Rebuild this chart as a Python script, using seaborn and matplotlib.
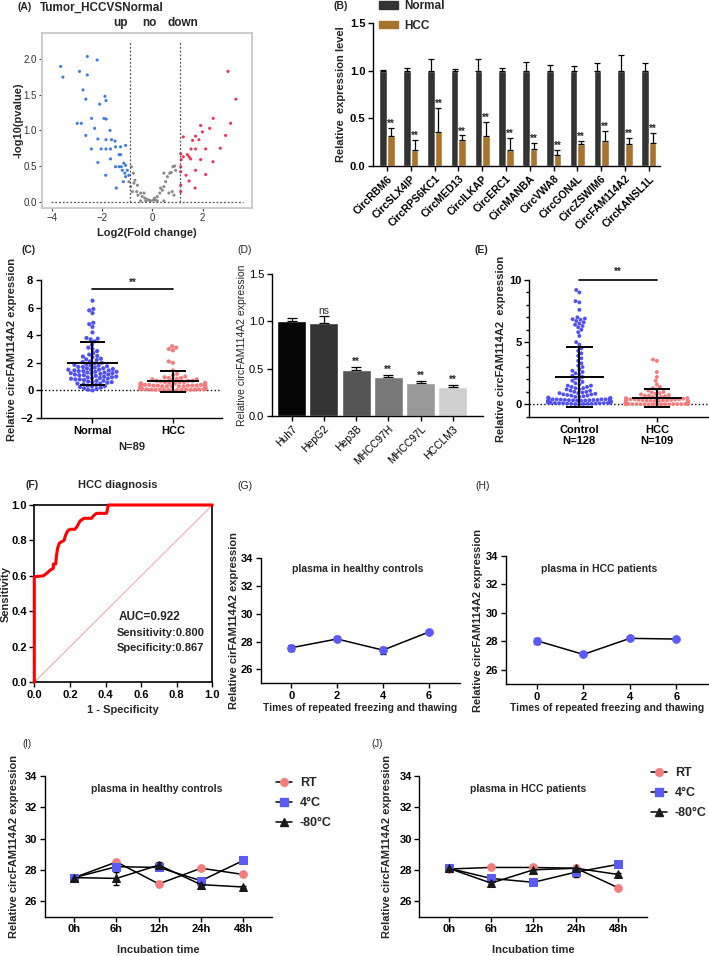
import numpy as np
import pandas as pd
import seaborn as sns
import matplotlib.pyplot as plt
from matplotlib.ticker import MultipleLocator, FormatStrFormatter
from matplotlib.lines import Line2D
from matplotlib.patches import Patch

sns.set_theme(style="ticks")
plt.rcParams['font.family'] = ['Liberation Sans', 'DejaVu Sans']
plt.rcParams['font.weight'] = 'bold'
plt.rcParams['axes.labelweight'] = 'bold'
plt.rcParams['axes.linewidth'] = 1.0
plt.rcParams['axes.edgecolor'] = 'black'
plt.rcParams['xtick.color'] = 'black'
plt.rcParams['ytick.color'] = 'black'
plt.rcParams['xtick.labelsize'] = 8
plt.rcParams['ytick.labelsize'] = 8

# ---------------- data ----------------
# (A) volcano plot
left_fc = [-3.64, -3.55, -2.58, -2.19, -2.89, -2.58, -2.75, -2.64, -2.98, -2.82,
           -2.09, -1.88, -1.84, -2.41, -2.29, -1.92, -1.83, -1.68, -2.64, -2.16,
           -1.84, -1.62, -1.48, -2.42, -2.03, -1.84, -1.66, -1.46, -1.26, -1.06,
           -1.32, -1.26, -1.66, -2.16, -1.46, -1.32, -1.23, -1.13, -1.06, -1.19,
           -1.09, -0.99, -0.93, -1.15, -1.85, -1.43, -1.06]
left_p = [1.90, 1.75, 2.04, 1.99, 1.83, 1.78, 1.57, 1.44, 1.10, 1.10,
          1.37, 1.48, 1.42, 1.17, 1.03, 1.17, 1.16, 1.00, 0.93, 0.88,
          0.87, 0.87, 0.85, 0.74, 0.74, 0.74, 0.74, 0.77, 0.77, 0.79,
          0.66, 0.66, 0.60, 0.55, 0.49, 0.49, 0.49, 0.54, 0.51, 0.44,
          0.40, 0.44, 0.37, 0.28, 0.37, 0.19, 0.35]
mid_fc = [-0.83, -0.75, -0.69, -0.86, -0.79, -0.62, -0.57, -0.46, -0.40, -0.30,
          -0.20, -0.13, -0.07, 0.03, 0.09, 0.20, 0.30, 0.40, 0.46, 0.53,
          0.60, 0.69, 0.75, 0.82, 0.89, 0.93, 0.46, 0.33, 0.66, 0.79,
          0.86, -0.59, -0.73, -0.33, 0.13, -0.26, 0.20, 0.46, -0.46, -0.93]
mid_p = [0.49, 0.40, 0.30, 0.21, 0.14, 0.14, 0.09, 0.12, 0.07, 0.05,
         0.03, 0.02, 0.01, 0.02, 0.05, 0.07, 0.12, 0.16, 0.21, 0.28,
         0.35, 0.40, 0.41, 0.49, 0.50, 0.44, 0.40, 0.19, 0.12, 0.14,
         0.09, 0.23, 0.26, 0.12, 0.02, 0.01, 0.01, 0.01, 0.01, 0.28]
right_fc = [3.01, 3.32, 2.42, 3.11, 1.92, 2.28, 1.99, 1.23, 1.72, 2.91,
            1.60, 1.85, 2.70, 1.54, 1.72, 2.12, 1.13, 1.39, 1.46, 1.52,
            1.92, 2.41, 1.13, 1.72, 2.12, 1.34, 1.13, 1.46, 1.13, 1.70,
            1.13, 1.15, 1.23]
right_p = [1.83, 1.44, 1.17, 1.10, 1.07, 1.03, 0.98, 0.91, 0.92, 0.93,
           0.86, 0.87, 0.75, 0.74, 0.74, 0.74, 0.67, 0.66, 0.63, 0.60,
           0.59, 0.56, 0.49, 0.44, 0.38, 0.37, 0.42, 0.29, 0.23, 0.19,
           0.14, 0.59, 0.63]
fc_cutoffs = [-0.89, 1.10]

# (B) candidate circRNAs
genes = ['CircRBM6', 'CircSLX4IP', 'CircRPS6KC1', 'CircMED13', 'CircILKAP', 'CircERC1',
         'CircMANBA', 'CircVWA8', 'CircGON4L', 'CircZSWIM6', 'CircFAM114A2', 'CircKANSL1L']
normal_b = [1.0, 1.0, 1.0, 1.0, 1.0, 1.0, 1.0, 1.0, 1.0, 1.0, 1.0, 1.0]
normal_b_err = [0.01, 0.03, 0.12, 0.02, 0.12, 0.03, 0.09, 0.06, 0.05, 0.08, 0.16, 0.08]
hcc_b = [0.31, 0.17, 0.36, 0.27, 0.31, 0.17, 0.18, 0.12, 0.23, 0.26, 0.23, 0.24]
hcc_b_err = [0.09, 0.10, 0.25, 0.05, 0.15, 0.12, 0.06, 0.05, 0.03, 0.11, 0.06, 0.11]

# (C) tissue samples
normal_c = [6.5, 5.9, 5.8, 5.6, 4.9, 4.8, 4.6, 4.2, 3.8, 3.75,
            3.7, 3.55, 3.3, 3.1, 3.0, 2.85, 2.7, 2.6, 2.5, 2.45,
            2.4, 2.3, 2.25, 2.2, 2.1, 2.05, 2.0, 1.95, 1.9, 1.85,
            1.8, 1.8, 1.75, 1.7, 1.7, 1.65, 1.6, 1.6, 1.55, 1.5,
            1.5, 1.5, 1.45, 1.45, 1.4, 1.4, 1.35, 1.35, 1.3, 1.3,
            1.25, 1.25, 1.2, 1.2, 1.15, 1.15, 1.1, 1.1, 1.05, 1.0,
            1.0, 0.95, 0.95, 0.9, 0.9, 0.85, 0.85, 0.8, 0.8, 0.75,
            0.7, 0.7, 0.65, 0.6, 0.6, 0.55, 0.5, 0.5, 0.45, 0.4,
            0.35, 0.3, 0.3, 0.25, 0.2, 0.15, 0.1, 0.05, 0.0]
hcc_c = [3.2, 3.1, 3.0, 2.9, 2.1, 2.0, 1.45, 1.2, 1.1, 1.0,
         0.95, 0.9, 0.9, 0.85, 0.8, 0.8, 0.75, 0.7, 0.7, 0.7,
         0.65, 0.6, 0.6, 0.6, 0.55, 0.55, 0.5, 0.5, 0.5, 0.5,
         0.45, 0.45, 0.45, 0.4, 0.4, 0.4, 0.4, 0.4, 0.35, 0.35,
         0.35, 0.35, 0.35, 0.3, 0.3, 0.3, 0.3, 0.3, 0.3, 0.25,
         0.25, 0.25, 0.25, 0.25, 0.25, 0.2, 0.2, 0.2, 0.2, 0.2,
         0.2, 0.2, 0.15, 0.15, 0.15, 0.15, 0.15, 0.15, 0.1, 0.1,
         0.1, 0.1, 0.1, 0.1, 0.1, 0.08, 0.08, 0.08, 0.06, 0.06,
         0.05, 0.05, 0.05, 0.04, 0.03, 0.03, 0.02, 0.02, 0.01]
c_groups = ['Normal', 'HCC']
c_mean = [1.97, 0.65]
c_sd = [1.55, 0.76]

# (D) cell lines
cell_lines = ['Huh7', 'HepG2', 'Hep3B', 'MHCC97H', 'MHCC97L', 'HCCLM3']
cell_expr = [1.0, 0.98, 0.49, 0.41, 0.35, 0.31]
cell_err = [0.03, 0.08, 0.03, 0.02, 0.02, 0.02]
cell_sig = ['', 'ns', '**', '**', '**', '**']
cell_colors = ['#050505', '#333333', '#555555', '#787878', '#999999', '#cfcfcf']

# (E) plasma samples
control_e = [9.2, 9.0, 8.3, 8.2, 7.6, 7.0, 6.9, 6.85, 6.8, 6.7,
             6.6, 6.5, 6.4, 6.3, 6.2, 6.0, 5.8, 5.5, 5.0, 4.8,
             4.5, 4.3, 4.1, 3.9, 3.7, 3.5, 3.3, 3.1, 3.0, 2.8,
             2.7, 2.6, 2.5, 2.4, 2.3, 2.2, 2.1, 2.0, 1.9, 1.8,
             1.7, 1.6, 1.5, 1.5, 1.4, 1.4, 1.3, 1.3, 1.2, 1.2,
             1.1, 1.1, 1.0, 1.0, 0.95, 0.9, 0.9, 0.85, 0.8, 0.8,
             0.75, 0.7, 0.7, 0.65, 0.6, 0.6, 0.55, 0.5, 0.5, 0.5,
             0.45, 0.45, 0.4, 0.4, 0.4, 0.4, 0.38, 0.36, 0.35, 0.35,
             0.34, 0.33, 0.32, 0.31, 0.3, 0.3, 0.3, 0.29, 0.28, 0.28,
             0.27, 0.26, 0.25, 0.25, 0.25, 0.24, 0.23, 0.22, 0.22, 0.21,
             0.2, 0.2, 0.2, 0.19, 0.18, 0.18, 0.17, 0.16, 0.15, 0.15,
             0.14, 0.13, 0.12, 0.12, 0.11, 0.1, 0.1, 0.09, 0.08, 0.08,
             0.07, 0.06, 0.05, 0.05, 0.04, 0.03, 0.02, 0.01]
hcc_e = [3.6, 3.5, 2.6, 2.2, 1.9, 1.6, 1.4, 1.3, 1.2, 1.1,
         1.0, 0.95, 0.9, 0.85, 0.8, 0.75, 0.7, 0.7, 0.65, 0.6,
         0.6, 0.55, 0.5, 0.5, 0.45, 0.45, 0.4, 0.4, 0.4, 0.38,
         0.36, 0.35, 0.34, 0.32, 0.3, 0.3, 0.3, 0.28, 0.27, 0.26,
         0.25, 0.25, 0.24, 0.23, 0.22, 0.21, 0.2, 0.2, 0.2, 0.19,
         0.18, 0.18, 0.17, 0.16, 0.15, 0.15, 0.15, 0.14, 0.14, 0.13,
         0.13, 0.12, 0.12, 0.12, 0.11, 0.11, 0.1, 0.1, 0.1, 0.1,
         0.09, 0.09, 0.09, 0.08, 0.08, 0.08, 0.08, 0.07, 0.07, 0.07,
         0.06, 0.06, 0.06, 0.06, 0.05, 0.05, 0.05, 0.05, 0.04, 0.04,
         0.04, 0.04, 0.03, 0.03, 0.03, 0.03, 0.02, 0.02, 0.02, 0.02,
         0.02, 0.01, 0.01, 0.01, 0.01, 0.0, 0.0, 0.0, 0.0]
e_groups = ['Control\nN=128', 'HCC\nN=109']
e_mean = [2.2, 0.51]
e_sd = [2.45, 0.75]

# (F) ROC curve
roc_fpr = [0.0, 0.0, 0.05, 0.07, 0.09, 0.107, 0.107, 0.12, 0.125, 0.131, 0.14, 0.154,
           0.167, 0.176, 0.185, 0.2, 0.228, 0.24, 0.257, 0.279, 0.322, 0.331, 0.35,
           0.406, 0.416, 1.0]
roc_tpr = [0.0, 0.596, 0.60, 0.615, 0.633, 0.643, 0.667, 0.667, 0.718, 0.756, 0.784, 0.793,
           0.80, 0.83, 0.85, 0.863, 0.863, 0.878, 0.91, 0.925, 0.925, 0.938, 0.953,
           0.953, 1.0, 1.0]

# (G, H) freeze-thaw cycles
freeze_times = [0, 2, 4, 6]
g_vals = [27.56, 28.19, 27.39, 28.69]
g_sd = [0.2, 0.18, 0.25, 0.05]
h_vals = [28.04, 27.08, 28.21, 28.16]
h_sd = [0.2, 0.05, 0.05, 0.05]

# (I, J) incubation time
incub_times = ['0h', '6h', '12h', '24h', '48h']
conditions = ['RT', '4°C', '-80°C']
cond_markers = ['o', 's', '^']
cond_colors = ['#f37d7d', '#5a5af5', '#1a1a1a']
i_vals = [[27.5, 28.5, 27.1, 28.1, 27.7],
          [27.5, 28.2, 28.15, 27.3, 28.6],
          [27.5, 27.45, 28.3, 27.05, 26.9]]
i_sd = [[0.1, 0.1, 0.05, 0.05, 0.05],
        [0.15, 0.1, 0.1, 0.1, 0.05],
        [0.1, 0.4, 0.2, 0.08, 0.06]]
j_vals = [[28.05, 28.15, 28.15, 28.1, 26.85],
          [28.1, 27.45, 27.2, 27.85, 28.35],
          [28.1, 27.15, 28.0, 28.1, 27.7]]
j_sd = [[0.1, 0.05, 0.15, 0.1, 0.05],
        [0.15, 0.2, 0.05, 0.3, 0.05],
        [0.1, 0.08, 0.15, 0.1, 0.12]]

# ---------------- layout helpers ----------------
W, H = 709, 956
fig = plt.figure(figsize=(W / 100, H / 100), dpi=100)


def px_axes(x0, y0, x1, y1):
    return fig.add_axes([x0 / W, 1 - y1 / H, (x1 - x0) / W, (y1 - y0) / H])


def px_text(x, y, s, size=8, ha='left', va='center', weight='bold', **kw):
    return fig.text(x / W, 1 - y / H, s, fontsize=size, ha=ha, va=va, fontweight=weight, **kw)


def ylab(ax, x, s, size=8, weight='bold'):
    b = ax.get_position()
    fig.text(x / W, b.y0 + b.height / 2, s, rotation=90, ha='center', va='center',
             fontsize=size, fontweight=weight)


def xlab(ax, y, s, size=8, weight='bold'):
    b = ax.get_position()
    fig.text(b.x0 + b.width / 2, 1 - y / H, s, ha='center', va='center',
             fontsize=size, fontweight=weight)


def prism(ax):
    sns.despine(ax=ax)
    ax.tick_params(length=3.5, width=1, pad=2)
    ax.set_xlabel('')
    ax.set_ylabel('')


def normal_ticks(ax):
    for t in ax.get_xticklabels() + ax.get_yticklabels():
        t.set_fontweight('normal')


def mean_sd(ax, means, sds, half_mean, half_cap):
    for i, (m, s) in enumerate(zip(means, sds)):
        ax.hlines(m, i - half_mean, i + half_mean, color='black', lw=1.4, zorder=5)
        ax.vlines(i, m - s, m + s, color='black', lw=1.4, zorder=5)
        ax.hlines([m - s, m + s], i - half_cap, i + half_cap, color='black', lw=1.4, zorder=5)


# ---------------- (A) ----------------
axA = px_axes(42, 33, 252, 208)
volcano = pd.DataFrame({
    'log2fc': left_fc + mid_fc + right_fc,
    'logp': left_p + mid_p + right_p,
    'grp': ['left'] * len(left_fc) + ['mid'] * len(mid_fc) + ['right'] * len(right_fc),
})
sns.scatterplot(data=volcano, x='log2fc', y='logp', hue='grp',
                palette={'left': '#3d7be0', 'mid': '#8a8a8a', 'right': '#ee3355'},
                s=5, linewidth=0, legend=False, ax=axA)
axA.vlines(fc_cutoffs, 0, 2.24, colors='#555555', linestyles=(0, (1.5, 1.5)), lw=0.9)
axA.hlines(0, -4.02, 3.6, colors='#555555', linestyles=(0, (1.5, 1.5)), lw=0.9)
axA.set_xlim(-4.38, 3.96)
axA.set_ylim(-0.09, 2.37)
axA.set_xticks([-4, -2, 0, 2])
axA.set_yticks([0, 0.5, 1.0, 1.5, 2.0])
axA.yaxis.set_major_formatter(FormatStrFormatter('%.1f'))
for sp in axA.spines.values():
    sp.set_color('#c8c8c8')
    sp.set_linewidth(1.3)
axA.tick_params(colors='#444444', labelcolor='#333333', length=2, width=0.8, labelsize=7, pad=1.5)
axA.set_xlabel('')
axA.set_ylabel('')
normal_ticks(axA)
px_text(18, 7, '(A)', size=7.5)
px_text(40, 8, 'Tumor_HCCVSNormal', size=8.5)
px_text(113, 23, 'up', size=8.5)
px_text(142, 23, 'no', size=8.5)
px_text(167, 23, 'down', size=8.5)
ylab(axA, 19, '-log10(pvalue)')
xlab(axA, 233, 'Log2(Fold change)')

# ---------------- (B) ----------------
axB = px_axes(373, 23, 660, 166)
dfB = pd.DataFrame({'gene': genes * 2,
                    'group': ['Normal'] * len(genes) + ['HCC'] * len(genes),
                    'level': normal_b + hcc_b})
b_pal = {'Normal': '#333333', 'HCC': '#a8732b'}
sns.barplot(data=dfB, x='gene', y='level', hue='group', hue_order=['Normal', 'HCC'],
            palette=b_pal, width=0.64, errorbar=None, saturation=1, ax=axB)
for cont, errs in zip(axB.containers, [normal_b_err, hcc_b_err]):
    for bar, e in zip(cont, errs):
        xc = bar.get_x() + bar.get_width() / 2
        axB.errorbar(xc, bar.get_height(), yerr=[[0], [e]], fmt='none', ecolor='black',
                     elinewidth=0.9, capsize=2.3, capthick=0.9)
for bar, e in zip(axB.containers[1], hcc_b_err):
    xc = bar.get_x() + bar.get_width() / 2
    axB.text(xc, bar.get_height() + e - 0.01, '**', ha='center', va='bottom', fontsize=7)
axB.set_ylim(0, 1.5)
axB.set_yticks([0, 0.5, 1.0, 1.5])
axB.yaxis.set_major_formatter(FormatStrFormatter('%.1f'))
axB.set_xlim(-0.59, 11.47)
prism(axB)
axB.set_xticks(range(len(genes)))
axB.set_xticklabels(genes, rotation=45, ha='right', rotation_mode='anchor', fontsize=7.5)
axB.legend([Patch(color=b_pal['Normal']), Patch(color=b_pal['HCC'])], ['Normal', 'HCC'],
           loc='upper left', bbox_to_anchor=(379 / W, 1.0), bbox_transform=fig.transFigure,
           frameon=False, prop={'weight': 'bold', 'size': 8.5}, handlelength=1.6,
           handleheight=0.6, labelspacing=0.65, borderpad=0, borderaxespad=0, handletextpad=0.5)
px_text(333, 6, '(B)', size=7.5)
ylab(axB, 341, 'Relative  expression level')

# ---------------- (C) ----------------
axC = px_axes(41, 280, 222, 418)
dfC = pd.DataFrame({'grp': ['Normal'] * len(normal_c) + ['HCC'] * len(hcc_c),
                    'val': normal_c + hcc_c})
sns.swarmplot(data=dfC, x='grp', y='val', hue='grp', order=c_groups, hue_order=c_groups,
              palette={'Normal': '#5050f5', 'HCC': '#f47c7c'}, size=3, legend=False,
              warn_thresh=1, ax=axC)
mean_sd(axC, c_mean, c_sd, 0.32, 0.16)
axC.axhline(0, ls=':', color='black', lw=1)
axC.plot([0, 1], [7.33, 7.33], color='black', lw=1.2)
axC.text(0.5, 7.4, '**', ha='center', va='bottom', fontsize=7)
axC.set_ylim(-2, 8)
axC.set_yticks([-2, 0, 2, 4, 6, 8])
axC.set_xlim(-0.64, 1.61)
prism(axC)
px_text(22, 250, '(C)', size=7.5)
ylab(axC, 12.5, 'Relative circFAM114A2 expression')
xlab(axC, 447, 'N=89')

# ---------------- (D) ----------------
axD = px_axes(272, 274, 483, 416)
sns.barplot(x=cell_lines, y=cell_expr, hue=cell_lines, palette=cell_colors, width=0.9,
            errorbar=None, saturation=1, legend=False, ax=axD)
for bar, e, sig in zip(axD.patches, cell_err, cell_sig):
    xc = bar.get_x() + bar.get_width() / 2
    top = bar.get_height()
    axD.errorbar(xc, top, yerr=[[0], [e]], fmt='none', ecolor='black', elinewidth=0.9,
                 capsize=3.5, capthick=0.9)
    if sig:
        axD.text(xc, top + e, sig, ha='center', va='bottom', fontsize=7 if sig == '**' else 7.5,
                 fontweight='bold' if sig == '**' else 'normal')
axD.set_ylim(0, 1.5)
axD.set_yticks([0, 0.5, 1.0, 1.5])
axD.yaxis.set_major_formatter(FormatStrFormatter('%.1f'))
axD.set_xlim(-0.61, 5.94)
prism(axD)
axD.set_xticks(range(len(cell_lines)))
axD.set_xticklabels(cell_lines, rotation=45, ha='right', rotation_mode='anchor', fontsize=7.5)
normal_ticks(axD)
px_text(237, 250, '(D)', size=7.5, weight='normal')
ylab(axD, 242, 'Relative circFAM114A2 expression', size=7.5, weight='normal')

# ---------------- (E) ----------------
axE = px_axes(529, 280, 708, 417)
dfE = pd.DataFrame({'grp': [e_groups[0]] * len(control_e) + [e_groups[1]] * len(hcc_e),
                    'val': control_e + hcc_e})
sns.swarmplot(data=dfE, x='grp', y='val', hue='grp', order=e_groups, hue_order=e_groups,
              palette={e_groups[0]: '#5050f5', e_groups[1]: '#f47c7c'}, size=2.8,
              legend=False, warn_thresh=1, ax=axE)
mean_sd(axE, e_mean, e_sd, 0.32, 0.17)
axE.axhline(0, ls=':', color='black', lw=1)
axE.plot([0, 1], [10, 10], color='black', lw=1.2, clip_on=False)
axE.text(0.5, 10.25, '**', ha='center', va='bottom', fontsize=7)
axE.set_ylim(-1.02, 10)
axE.set_yticks([0, 5, 10])
axE.yaxis.set_minor_locator(MultipleLocator(1))
axE.tick_params(axis='y', which='minor', length=2, width=1)
axE.set_xlim(-0.65, 1.66)
prism(axE)
px_text(475, 250, '(E)', size=7.5)
ylab(axE, 501, 'Relative circFAM114A2  expression')

# ---------------- (F) ----------------
axF = px_axes(34.3, 505, 212.3, 682.3)
axF.plot([0, 1], [0, 1], color='#f4a0a0', lw=0.7)
sns.lineplot(x=roc_fpr, y=roc_tpr, sort=False, estimator=None, color='#ff0000', lw=2.2,
             clip_on=False, zorder=5, ax=axF)
axF.set_xlim(0, 1)
axF.set_ylim(0, 1)
axF.set_xticks(np.arange(0, 1.01, 0.2))
axF.set_yticks(np.arange(0, 1.01, 0.2))
axF.xaxis.set_major_formatter(FormatStrFormatter('%.1f'))
axF.yaxis.set_major_formatter(FormatStrFormatter('%.1f'))
axF.tick_params(length=3.5, width=1, pad=2)
for sp in axF.spines.values():
    sp.set_linewidth(1.2)
axF.text(0.472, 0.37, 'AUC=0.922', fontsize=8.5, va='center')
axF.text(0.463, 0.28, 'Sensitivity:0.800', fontsize=8, va='center')
axF.text(0.463, 0.195, 'Specificity:0.867', fontsize=8, va='center')
px_text(25, 485, '(F)', size=7.5)
px_text(118, 485, 'HCC diagnosis', size=8, ha='center')
ylab(axF, 6, 'Sensitivity')
xlab(axF, 710, '1 - Specificity')

# ---------------- (G) and (H) ----------------
for box, vals, sds, title, tx, lab, lx, tag, tagx in [
        ((260.7, 558.3, 460, 683.3), g_vals, g_sd, 'plasma in healthy controls', 357.7,
         'Relative cirFAM114A2 expression', 234, '(G)', 237),
        ((506, 556, 708, 684), h_vals, h_sd, 'plasma in HCC patients', 599.3,
         'Relative circFAM114A2 expression', 478, '(H)', 475)]:
    ax = px_axes(*box)
    ax.errorbar(freeze_times, vals, yerr=sds, fmt='none', ecolor='black', elinewidth=1,
                capsize=2.2, capthick=1, zorder=1)
    sns.lineplot(x=freeze_times, y=vals, estimator=None, color='black', lw=1.1, marker='o',
                 markersize=5.5, mfc='#5a5aff', mec='#5a5aff', ax=ax)
    ax.set_xlim(-1.33, 7.36)
    ax.set_xticks(freeze_times)
    ax.set_ylim(25, 34)
    ax.set_yticks([26, 28, 30, 32, 34])
    prism(ax)
    px_text(tx, 569, title, size=7.5, ha='center')
    px_text(tagx, 486, tag, size=7.5, weight='normal')
    ylab(ax, lx, lab)
    xlab(ax, 708, 'Times of repeated freezing and thawing', size=7.4)

# ---------------- (I) and (J) ----------------
for box, vals, sds, title, tx, lab, lx, tag, tagx, leg_x, leg_y in [
        ((45, 776, 271.7, 916.7), i_vals, i_sd, 'plasma in healthy controls', 157,
         'Relative circFAM114A2 expression', 14, '(I)', 22, 276, 777),
        ((419.3, 776, 646.7, 916.7), j_vals, j_sd, 'plasma in HCC patients', 528,
         'Relative circFAM114A2 expression', 387.5, '(J)', 371, 651, 767)]:
    ax = px_axes(*box)
    pos = np.arange(len(incub_times))
    handles = []
    for vals_c, sd_c, mk, col in zip(vals, sds, cond_markers, cond_colors):
        ax.errorbar(pos, vals_c, yerr=sd_c, fmt='none', ecolor='black', elinewidth=1,
                    capsize=2.2, capthick=1, zorder=1)
        sns.lineplot(x=pos, y=vals_c, estimator=None, color='black', lw=1.1, marker=mk,
                     markersize=5.5, mfc=col, mec=col, ax=ax)
        handles.append(Line2D([], [], color='black', lw=1.1, marker=mk, markersize=5.5,
                              mfc=col, mec=col))
    ax.set_xlim(-0.69, 4.67)
    ax.set_xticks(pos)
    ax.set_xticklabels(incub_times)
    ax.set_ylim(25, 34)
    ax.set_yticks([26, 28, 30, 32, 34])
    prism(ax)
    ax.legend(handles, conditions, loc='upper left', bbox_to_anchor=(leg_x / W, 1 - leg_y / H),
              bbox_transform=fig.transFigure, frameon=False, prop={'weight': 'bold', 'size': 9},
              handlelength=1.3, labelspacing=0.65, borderpad=0, borderaxespad=0,
              handletextpad=0.6)
    px_text(tx, 789, title, size=7.5, ha='center')
    px_text(tagx, 744, tag, size=7, weight='normal')
    ylab(ax, lx, lab)
    xlab(ax, 950, 'Incubation time')

fig.savefig('out.png', dpi=100)
plt.close(fig)
